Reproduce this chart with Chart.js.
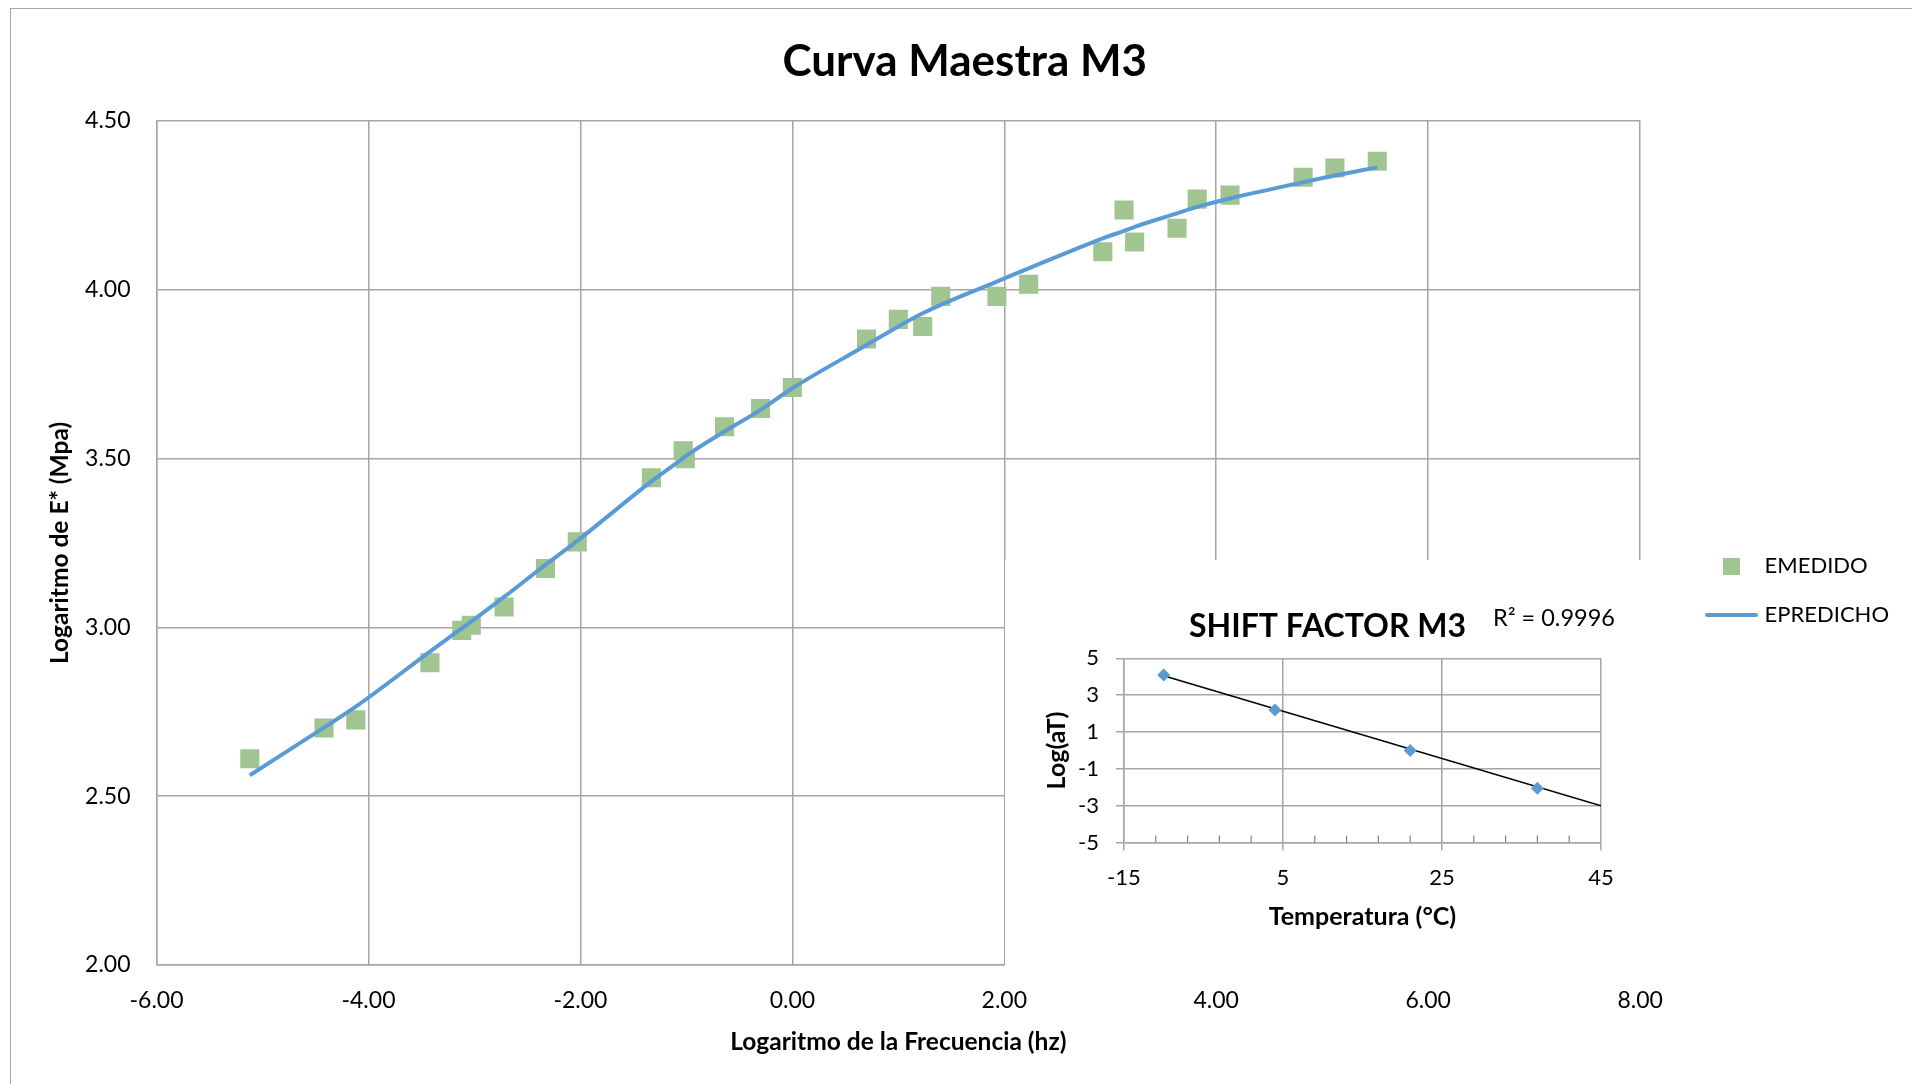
<!DOCTYPE html>
<html>
<head>
<meta charset="utf-8">
<title>Curva Maestra M3</title>
<script src="https://cdn.jsdelivr.net/npm/chart.js@4.4.0/dist/chart.umd.min.js"></script>
<style>
  html, body { margin: 0; padding: 0; background: #fff; }
  #wrap { position: relative; width: 1912px; height: 1084px; overflow: hidden; }
  #frame { position: absolute; left: 10px; top: 8px; width: 2000px; height: 2000px;
           border-left: 1.5px solid #a6a6a6; border-top: 1.5px solid #a6a6a6; }
  #main { position: absolute; left: 0; top: 0; }
  #insetBox { position: absolute; left: 1005px; top: 560px; width: 645px; height: 418px; background: #fff; }
</style>
</head>
<body>
<div id="wrap">
  <div id="frame"></div>
  <canvas id="main" width="1912" height="1084"></canvas>
  <div id="insetBox"><canvas id="inset" width="645" height="418"></canvas></div>
</div>

<script>
// datos curva maestra (log frecuencia vs log E*)
const freqLog = [-5.12, -4.42, -4.12, -3.42, -3.12, -3.03, -2.72, -2.33, -2.03, -1.33,
                 -1.03, -1.01, -0.64, -0.30, 0.00, 0.70, 1.00, 1.23, 1.40, 1.93,
                 2.23, 2.93, 3.13, 3.23, 3.63, 3.82, 4.13, 4.82, 5.12, 5.52];
const eMedido = [2.611, 2.702, 2.726, 2.895, 2.991, 3.006, 3.060, 3.174, 3.253, 3.443,
                 3.523, 3.499, 3.594, 3.648, 3.710, 3.854, 3.912, 3.891, 3.980, 3.980,
                 4.016, 4.112, 4.236, 4.141, 4.182, 4.268, 4.280, 4.333, 4.360, 4.380];
const ePredicho = [2.562, 2.703, 2.765, 2.928, 2.997, 3.017, 3.090, 3.185, 3.256, 3.432,
                   3.501, 3.506, 3.580, 3.644, 3.708, 3.836, 3.891, 3.930, 3.955, 4.024,
                   4.063, 4.152, 4.174, 4.186, 4.226, 4.245, 4.270, 4.318, 4.338, 4.362];
const xTicks = [-6, -4, -2, 0, 2, 4, 6, 8];
const yTicks = [2.0, 2.5, 3.0, 3.5, 4.0, 4.5];

// datos shift factor
const temps = [-10, 4, 21, 37];
const logAT = [4.1, 2.2, 0.0, -2.05];
const trendT = [-10, 45];
const trendY = [4.06, -3.0];
const r2Text = 'R\u00b2 = 0.9996';
const tempTicks = [-15, 5, 25, 45];
const logTicks = [-5, -3, -1, 1, 3, 5];

const verde = '#a1c591';
const azul = '#5b9bd5';
const gris = '#a6a6a6';

Chart.defaults.font.family = 'Lato, "Open Sans", sans-serif';
Chart.defaults.color = '#000';

// iconos de la leyenda
function iconSquare() {
  const c = document.createElement('canvas');
  c.width = 17; c.height = 17;
  const g = c.getContext('2d');
  g.fillStyle = verde; g.fillRect(0, 0, 17, 17);
  return c;
}
function iconLine() {
  const c = document.createElement('canvas');
  c.width = 53; c.height = 6;
  const g = c.getContext('2d');
  g.strokeStyle = azul; g.lineWidth = 4; g.lineCap = 'round';
  g.beginPath(); g.moveTo(2, 3); g.lineTo(51, 3); g.stroke();
  return c;
}
const icons = [iconSquare(), iconLine()];

// ajusta titulo y leyenda despues del layout
function moveBoxes(titleDx, legendDx, legendDy) {
  return {
    id: 'moveBoxes',
    afterLayout(chart) {
      const t = chart.titleBlock;
      if (t) { t.left += titleDx; t.right += titleDx; }
      const l = chart.legend;
      if (l && legendDx !== undefined) {
        l.left += legendDx; l.right += legendDx;
        l.top += legendDy; l.bottom += legendDy;
      }
    }
  };
}

const mainChart = new Chart(document.getElementById('main'), {
  type: 'scatter',
  data: {
    datasets: [{
      label: 'EMEDIDO',
      data: freqLog.map((x, i) => ({ x: x, y: eMedido[i] })),
      pointStyle: 'rect',
      pointRadius: 13.5,
      pointHoverRadius: 13.5,
      backgroundColor: verde,
      borderWidth: 0,
      order: 1
    }, {
      type: 'line',
      label: 'EPREDICHO',
      data: freqLog.map((x, i) => ({ x: x, y: ePredicho[i] })),
      borderColor: azul,
      borderWidth: 4,
      pointRadius: 0,
      cubicInterpolationMode: 'monotone',
      fill: false,
      order: 0
    }]
  },
  options: {
    responsive: false,
    animation: false,
    events: [],
    layout: { padding: { left: 45, right: 55.5, top: 0, bottom: 27 } },
    plugins: {
      title: {
        display: true, text: 'Curva Maestra M3', color: '#000',
        font: { size: 44, weight: 'bold' }, padding: { top: 35, bottom: 33 }
      },
      legend: {
        position: 'right',
        labels: {
          usePointStyle: true, pointStyleWidth: 44, padding: 27,
          font: { size: 22 }, color: '#000',
          generateLabels: chart => chart.data.datasets.map((ds, i) => ({
            text: ds.label, datasetIndex: i, hidden: false,
            pointStyle: icons[i], fillStyle: i ? azul : verde,
            strokeStyle: i ? azul : verde, lineWidth: 0, fontColor: '#000'
          }))
        }
      },
      tooltip: { enabled: false }
    },
    scales: {
      x: {
        type: 'linear', min: -6, max: 8,
        afterBuildTicks: axis => { axis.ticks = xTicks.map(v => ({ value: v })); },
        ticks: { callback: v => v.toFixed(2), font: { size: 23 }, padding: 6, color: '#000' },
        grid: { color: gris, lineWidth: 1.5, tickLength: 16, tickColor: 'rgba(0,0,0,0)' },
        border: { color: gris, width: 1.5 },
        title: {
          display: true, text: 'Logaritmo de la Frecuencia (hz)', color: '#000',
          font: { size: 24.5, weight: 'bold' }, padding: { top: 7, bottom: 0 }
        }
      },
      y: {
        type: 'linear', min: 2, max: 4.5,
        afterBuildTicks: axis => { axis.ticks = yTicks.map(v => ({ value: v })); },
        ticks: { callback: v => v.toFixed(2), font: { size: 23 }, padding: 6, color: '#000' },
        grid: { color: gris, lineWidth: 1.5, tickLength: 20, tickColor: 'rgba(0,0,0,0)' },
        border: { color: gris, width: 1.5 },
        title: {
          display: true, text: 'Logaritmo de E* (Mpa)', color: '#000',
          font: { size: 24.5, weight: 'bold' }, padding: { top: 0, bottom: 4.7 }
        }
      }
    }
  },
  plugins: [moveBoxes(14, 42.5, 62)]
});

// marcas menores del eje x del grafico chico
const minorTicks = {
  id: 'minorTicks',
  beforeDatasetsDraw(chart) {
    const sx = chart.scales.x, bottom = chart.chartArea.bottom, g = chart.ctx;
    g.save();
    g.strokeStyle = '#808080'; g.lineWidth = 1.2;
    for (let v = sx.min + 4; v < sx.max; v += 4) {
      if (tempTicks.includes(v)) continue;
      const px = sx.getPixelForValue(v);
      g.beginPath(); g.moveTo(px, bottom); g.lineTo(px, bottom - 7); g.stroke();
    }
    g.restore();
  }
};

// etiqueta R2 de la linea de tendencia
const r2Label = {
  id: 'r2Label',
  afterDraw(chart) {
    const g = chart.ctx, a = chart.chartArea;
    g.save();
    g.font = '23.5px Lato, "Open Sans", sans-serif';
    g.fillStyle = '#000'; g.textAlign = 'left'; g.textBaseline = 'alphabetic';
    g.fillText(r2Text, a.right - 108, a.top - 32);
    g.restore();
  }
};

const insetChart = new Chart(document.getElementById('inset'), {
  type: 'scatter',
  data: {
    datasets: [{
      label: 'Log(aT)',
      data: temps.map((t, i) => ({ x: t, y: logAT[i] })),
      pointStyle: 'rectRot',
      pointRadius: 6.5,
      backgroundColor: azul,
      borderWidth: 0,
      order: 0
    }, {
      type: 'line',
      label: 'Lineal',
      data: trendT.map((t, i) => ({ x: t, y: trendY[i] })),
      borderColor: '#000',
      borderWidth: 1.5,
      pointRadius: 0,
      fill: false,
      order: 1
    }]
  },
  options: {
    responsive: false,
    animation: false,
    events: [],
    layout: { padding: { left: 37, right: 49, top: 0, bottom: 46 } },
    plugins: {
      legend: { display: false },
      tooltip: { enabled: false },
      title: {
        display: true, text: 'SHIFT FACTOR M3', color: '#000',
        font: { size: 32, weight: 'bold' }, padding: { top: 47, bottom: 13 }
      }
    },
    scales: {
      x: {
        type: 'linear', min: -15, max: 45,
        afterBuildTicks: axis => { axis.ticks = tempTicks.map(v => ({ value: v })); },
        ticks: { font: { size: 22 }, padding: 14, color: '#000' },
        grid: { color: gris, lineWidth: 1.5, tickLength: 8 },
        border: { color: gris, width: 1.5 },
        title: {
          display: true, text: 'Temperatura (\u00b0C)', color: '#000',
          font: { size: 25, weight: 'bold' }, padding: { top: -3, bottom: 0 }
        }
      },
      y: {
        type: 'linear', min: -5, max: 5,
        afterBuildTicks: axis => { axis.ticks = logTicks.map(v => ({ value: v })); },
        ticks: { font: { size: 22 }, padding: 17, color: '#000' },
        grid: { color: gris, lineWidth: 1.5, tickLength: 8 },
        border: { color: gris, width: 1.5 },
        title: {
          display: true, text: 'Log(aT)', color: '#000',
          font: { size: 25, weight: 'bold' }, padding: { top: 0, bottom: -11 }
        }
      }
    }
  },
  plugins: [minorTicks, r2Label, moveBoxes(6)]
});
</script>
</body>
</html>
